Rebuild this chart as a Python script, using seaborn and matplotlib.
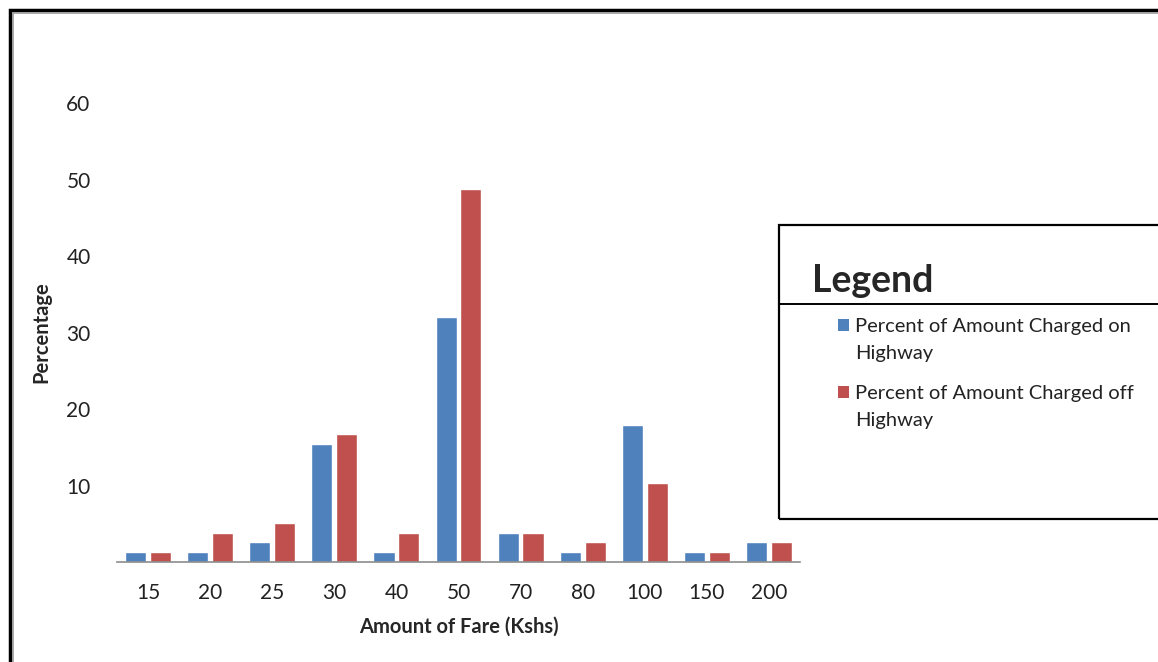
import matplotlib
matplotlib.use("Agg")
import matplotlib.pyplot as plt
from matplotlib.patches import Rectangle
from matplotlib.lines import Line2D
import seaborn as sns
import pandas as pd

# Fare amounts (Kshs) and share of trips at each fare
fares = ["15", "20", "25", "30", "40", "50", "70", "80", "100", "150", "200"]
on_highway = [1.3, 1.3, 2.6, 15.4, 1.3, 32.0, 3.8, 1.3, 17.9, 1.3, 2.6]
off_highway = [1.3, 3.8, 5.1, 16.7, 3.8, 48.7, 3.8, 2.6, 10.3, 1.3, 2.6]
series_names = ["Percent of Amount Charged on Highway",
                "Percent of Amount Charged off Highway"]
legend_labels = ["Percent of Amount Charged on\nHighway",
                 "Percent of Amount Charged off\nHighway"]
colors = ["#4F81BD", "#C0504D"]
y_ticks = [10, 20, 30, 40, 50, 60]

df = pd.DataFrame({
    "Fare": fares * 2,
    "Percentage": on_highway + off_highway,
    "Series": [series_names[0]] * len(fares) + [series_names[1]] * len(fares),
})

sns.set_style("white")
plt.rcParams["font.family"] = ["Lato", "DejaVu Sans"]

W, H = 1158, 662
fig = plt.figure(figsize=(W / 100, H / 100), dpi=100)
ax = fig.add_axes([117 / W, 1 - 562 / H, (800 - 117) / W, (562 - 103) / H])

sns.barplot(data=df, x="Fare", y="Percentage", hue="Series", order=fares,
            hue_order=series_names, palette=colors,
            width=0.8, gap=0.15, saturation=1, ax=ax, legend=False)

ax.set_ylim(0, 60)
ax.set_xlim(-0.5, len(fares) - 0.5)
ax.set_yticks(y_ticks)
ax.tick_params(axis="both", length=0, labelsize=15, colors="#222222")
ax.tick_params(axis="x", pad=15)
ax.tick_params(axis="y", pad=19)
for s in ["top", "right", "left"]:
    ax.spines[s].set_visible(False)
ax.spines["bottom"].set_color("#8c8c8c")
ax.spines["bottom"].set_linewidth(1.2)

ax.set_xlabel("Amount of Fare (Kshs)", fontsize=14.5, fontweight="bold",
              labelpad=10)
ax.set_ylabel("Percentage", fontsize=14.5, fontweight="bold", labelpad=11)

# Legend panel: boxed area with a title row and two wrapped entries
box = Rectangle((779 / W, 1 - 519 / H), (W + 20 - 779) / W, (519 - 225) / H,
                transform=fig.transFigure, fill=False, edgecolor="black",
                linewidth=1.6, clip_on=False)
fig.add_artist(box)
fig.add_artist(Line2D([779 / W, 1.02], [1 - 304 / H, 1 - 304 / H],
                      transform=fig.transFigure, color="black", linewidth=1.4))
fig.text(812 / W, 1 - 281 / H, "Legend", fontsize=27, fontweight="bold",
         va="center", ha="left")
for i, (label, color) in enumerate(zip(legend_labels, colors)):
    y_top = 325 + 67 * i
    fig.add_artist(Rectangle((838 / W, 1 - (y_top + 6) / H), 11 / W, 12 / H,
                             transform=fig.transFigure, facecolor=color,
                             edgecolor="none"))
    fig.text(855 / W, 1 - (y_top - 7) / H, label, fontsize=14.5,
             va="top", ha="left", linespacing=1.7, color="#222222")

# Outer border of the figure
fig.add_artist(Rectangle((10 / W, -0.1), 1.2, 1.1 - 10 / H,
                         transform=fig.transFigure, fill=False,
                         edgecolor="black", linewidth=2.5, clip_on=False))
fig.add_artist(Rectangle((12.5 / W, -0.1), 1.2, 1.1 - 12.5 / H,
                         transform=fig.transFigure, fill=False,
                         edgecolor="#9a9a9a", linewidth=1.2, clip_on=False))

fig.savefig("out.png", dpi=100)
